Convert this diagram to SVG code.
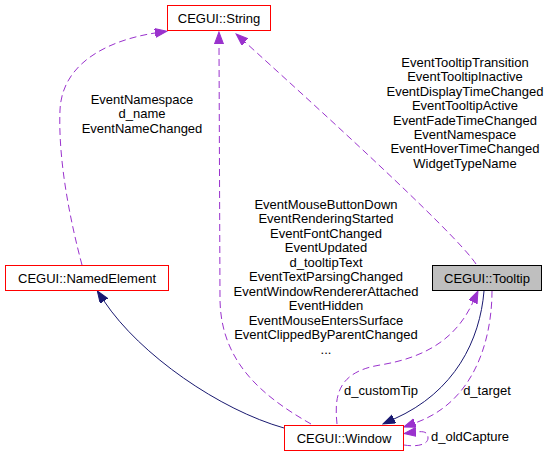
<svg xmlns="http://www.w3.org/2000/svg" width="552" height="456" viewBox="0 0 552 456">
<style>
text{font-family:"Liberation Sans",Arial,Helvetica,sans-serif;font-size:13px;fill:#000;text-anchor:middle}
.node{fill:#fff;stroke:#ff0000;stroke-width:1}
.cur{fill:#bfbfbf;stroke:#000;stroke-width:1}
.dash{fill:none;stroke:#9a32cd;stroke-width:1;stroke-dasharray:7,4}
.solid{fill:none;stroke:#191970;stroke-width:1}
</style>
<defs>
<marker id="ap" markerUnits="userSpaceOnUse" markerWidth="13" markerHeight="11" refX="0" refY="4.5" orient="auto" viewBox="0 0 13 11">
<path d="M0,0 L12,4.5 L0,9 z" fill="#9a32cd" stroke="#9a32cd"/>
</marker>
<marker id="an" markerUnits="userSpaceOnUse" markerWidth="13" markerHeight="11" refX="0" refY="4.5" orient="auto" viewBox="0 0 13 11">
<path d="M0,0 L12,4.5 L0,9 z" fill="#191970" stroke="#191970"/>
</marker>
</defs>
<g id="connectors">
<path class="dash" d="M82,265 C70,220 58,160 60,110 C62,62 110,40 155,33" marker-end="url(#ap)"/>
<path class="dash" d="M311,424 C262,396 221,362 220,300 L219,44" marker-end="url(#ap)"/>
<path class="dash" d="M476,264 C455,232 300,92 245,42" marker-end="url(#ap)"/>
<path class="solid" d="M284,428 C220,410 140,355 104,301" marker-end="url(#an)"/>
<path class="solid" d="M484,291 C480,340 455,392 394,419" marker-end="url(#an)"/>
<path class="dash" d="M492,291 C492,330 480,400 415,423" marker-end="url(#ap)"/>
<path class="dash" d="M404,445 C416,447 428,445 428,438 C428,432 424,431 416,432" marker-end="url(#ap)"/>
<path class="dash" d="M337,424 C334,395 338,372 380,365 C430,357 458,335 473,302" marker-end="url(#ap)"/>
<text x="142" y="103.5">EventNamespace</text>
<text x="142" y="118">d_name</text>
<text x="142" y="132.5">EventNameChanged</text>
<text x="326" y="208.5">EventMouseButtonDown</text>
<text x="326" y="223">EventRenderingStarted</text>
<text x="326" y="237.5">EventFontChanged</text>
<text x="326" y="252">EventUpdated</text>
<text x="326" y="266.5">d_tooltipText</text>
<text x="326" y="281">EventTextParsingChanged</text>
<text x="326" y="295.5">EventWindowRendererAttached</text>
<text x="326" y="310">EventHidden</text>
<text x="326" y="324.5">EventMouseEntersSurface</text>
<text x="326" y="339">EventClippedByParentChanged</text>
<text x="326" y="353.5">...</text>
<text x="465" y="67">EventTooltipTransition</text>
<text x="465" y="81.4">EventTooltipInactive</text>
<text x="465" y="95.8">EventDisplayTimeChanged</text>
<text x="465" y="110.2">EventTooltipActive</text>
<text x="465" y="124.6">EventFadeTimeChanged</text>
<text x="465" y="139">EventNamespace</text>
<text x="465" y="153.4">EventHoverTimeChanged</text>
<text x="465" y="167.8">WidgetTypeName</text>
<text x="381" y="395">d_customTip</text>
<text x="487" y="395">d_target</text>
<text x="470" y="441">d_oldCapture</text>
</g>
<g id="node-string">
<rect class="node" x="167.5" y="5.5" width="103" height="25"/>
<text x="219" y="22.5">CEGUI::String</text>
</g>
<g id="node-namedelement">
<rect class="node" x="5.5" y="265.5" width="163" height="25"/>
<text x="87" y="282.5">CEGUI::NamedElement</text>
</g>
<g id="node-tooltip">
<rect class="cur" x="432.5" y="265.5" width="109" height="25"/>
<text x="487" y="282.5">CEGUI::Tooltip</text>
</g>
<g id="node-window">
<rect class="node" x="284.5" y="425.5" width="119" height="25"/>
<text x="344" y="442.5">CEGUI::Window</text>
</g>
</svg>
